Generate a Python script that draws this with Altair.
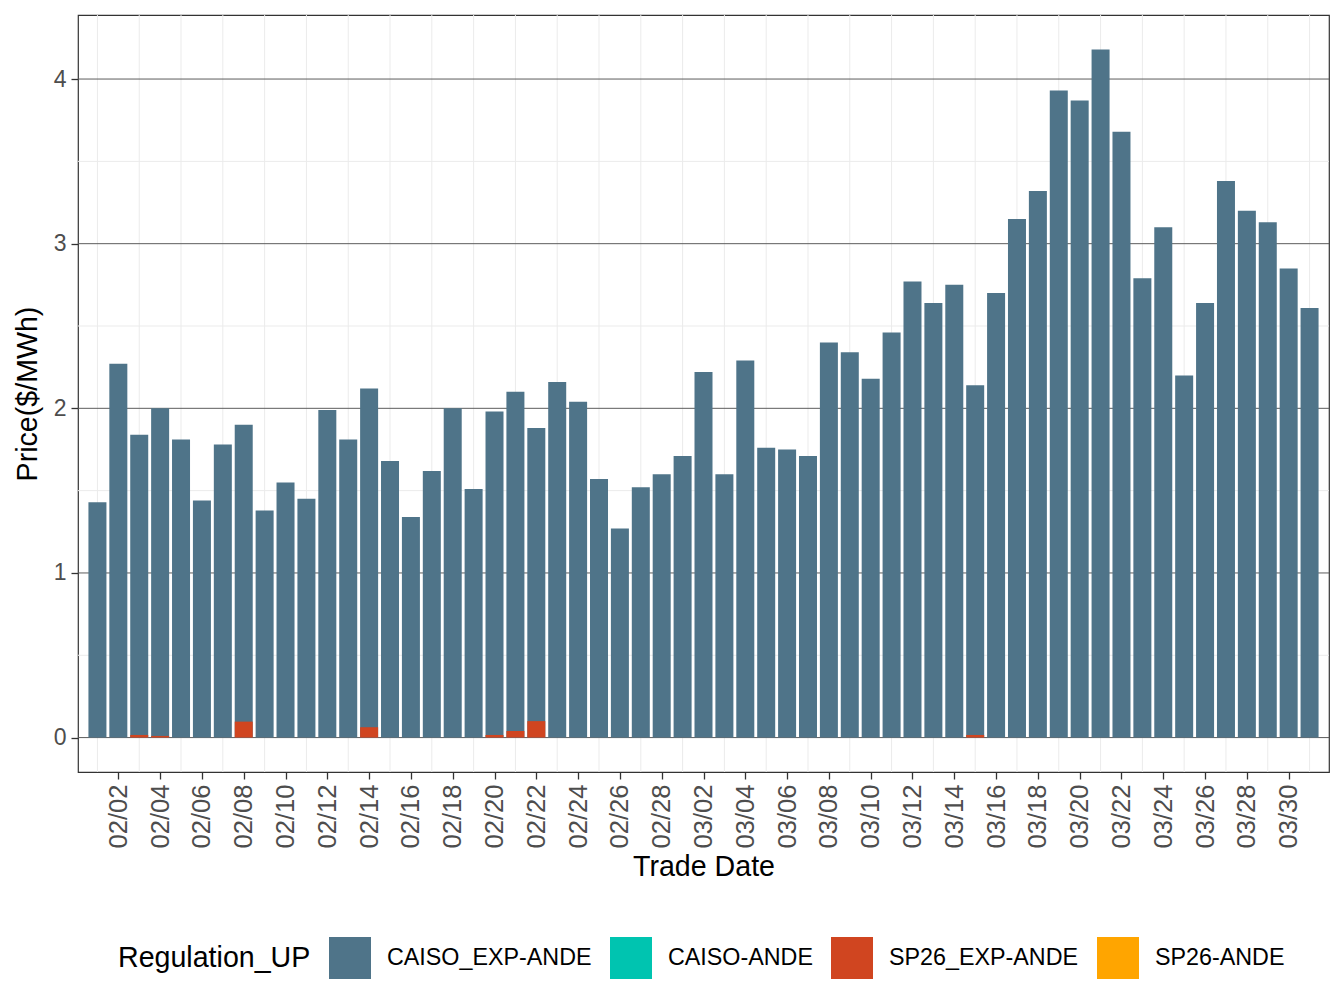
import altair as alt
import pandas as pd

# ---------------- data ----------------
dates = [d.strftime("%Y-%m-%d") for d in pd.date_range("2023-02-01", "2023-03-31", freq="D")]

caiso_exp_ande = [
    1.43, 2.27, 1.84, 2.00, 1.81, 1.44, 1.78, 1.90, 1.38, 1.55,
    1.45, 1.99, 1.81, 2.12, 1.68, 1.34, 1.62, 2.00, 1.51, 1.98,
    2.10, 1.88, 2.16, 2.04, 1.57, 1.27, 1.52, 1.60, 1.71, 2.22,
    1.60, 2.29, 1.76, 1.75, 1.71, 2.40, 2.34, 2.18, 2.46, 2.77,
    2.64, 2.75, 2.14, 2.70, 3.15, 3.32, 3.93, 3.87, 4.18, 3.68,
    2.79, 3.10, 2.20, 2.64, 3.38, 3.20, 3.13, 2.85, 2.61,
]

sp26_exp_ande = [
    0.0, 0.0, 0.016, 0.010, 0.0, 0.0, 0.0, 0.097, 0.0, 0.0,
    0.0, 0.0, 0.0, 0.063, 0.0, 0.0, 0.0, 0.0, 0.0, 0.016,
    0.040, 0.100, 0.0, 0.0, 0.0, 0.0, 0.0, 0.0, 0.0, 0.0,
    0.0, 0.0, 0.0, 0.0, 0.0, 0.0, 0.0, 0.0, 0.0, 0.0,
    0.0, 0.0, 0.016, 0.0, 0.0, 0.0, 0.0, 0.0, 0.0, 0.0,
    0.0, 0.0, 0.0, 0.0, 0.0, 0.0, 0.0, 0.0, 0.0,
]

categories = ["CAISO_EXP-ANDE", "CAISO-ANDE", "SP26_EXP-ANDE", "SP26-ANDE"]
colors = ["#4F7489", "#00C4B0", "#D04520", "#FFA500"]

y_major = [0, 1, 2, 3, 4]
y_minor = [0.5, 1.5, 2.5, 3.5]

# ---------------- tables ----------------
rows = [{"date": d, "price": v, "series": "CAISO_EXP-ANDE"} for d, v in zip(dates, caiso_exp_ande)]
rows += [{"date": d, "price": v, "series": "SP26_EXP-ANDE"} for d, v in zip(dates, sp26_exp_ande) if v > 0]
bars_df = pd.DataFrame(rows)


def ms(d):
    return int(pd.Timestamp(d, tz="UTC").timestamp() * 1000)


day_ms = 86400000
tick_values = [ms(d) for d in dates if int(d[-2:]) % 2 == 0]
odd_df = pd.DataFrame({"date": [d for d in dates if int(d[-2:]) % 2 == 1]})
minor_df = pd.DataFrame({"price": y_minor})
major_df = pd.DataFrame({"price": y_major})

pad = 0.93 * day_ms
x_scale = alt.Scale(type="utc", domain=[ms(dates[0]) - pad, ms(dates[-1]) + pad], nice=False, padding=0)
y_scale = alt.Scale(domain=[-0.209, 4.389], nice=False, zero=False)

FONT = "Liberation Sans"

x_axis = alt.Axis(
    values=tick_values,
    labelExpr="utcFormat(datum.value, '%m/%d')",
    labelAngle=270, labelAlign="right", labelBaseline="middle",
    labelFontSize=25.6, labelColor="#4d4d4d", labelPadding=5, labelFont=FONT,
    labelOverlap=False, labelFlush=False,
    tickColor="#333333", tickSize=7, tickWidth=1.3,
    grid=False, domain=False,
    title="Trade Date", titleFontSize=28.6, titleColor="#000000",
    titleFontWeight="normal", titleFont=FONT, titlePadding=4,
)
y_axis = alt.Axis(
    values=y_major, format="d",
    labelFontSize=23, labelColor="#4d4d4d", labelPadding=5, labelFont=FONT,
    tickColor="#333333", tickSize=7, tickWidth=1.3,
    grid=False, domain=False,
    title="Price($/MWh)", titleFontSize=28.6, titleColor="#000000",
    titleFontWeight="normal", titleFont=FONT, titlePadding=11,
)

x_enc = alt.X("date:T", scale=x_scale, axis=x_axis)
y_enc = alt.Y("price:Q", scale=y_scale, axis=y_axis, stack=None)

vgrid = alt.Chart(odd_df).mark_rule(color="#ebebeb", strokeWidth=1).encode(x=x_enc)
hminor = alt.Chart(minor_df).mark_rule(color="#ebebeb", strokeWidth=1).encode(y=y_enc)
hmajor = alt.Chart(major_df).mark_rule(color="#5c5c5c", strokeWidth=1).encode(y=y_enc)

bars = alt.Chart(bars_df).mark_bar(width=18).encode(
    x=x_enc,
    y=y_enc,
    color=alt.Color(
        "series:N",
        scale=alt.Scale(domain=categories, range=colors),
        legend=alt.Legend(
            orient="none", legendX=40, legendY=922, direction="horizontal",
            title="Regulation_UP", titleOrient="left", titleFontSize=28.6,
            titleColor="#000000", titleFontWeight="normal", titleFont=FONT,
            titleBaseline="middle", titleAnchor="middle", titlePadding=18,
            titleLimit=0, labelLimit=0,
            labelFontSize=23.3, labelColor="#000000", labelFont=FONT,
            symbolType="square", symbolSize=1764, symbolStrokeWidth=0,
            symbolOpacity=1, labelOffset=16, columnPadding=18, padding=0,
        ),
    ),
)

chart = (
    alt.layer(vgrid, hminor, hmajor, bars)
    .properties(
        width=1251, height=757,
        padding={"left": 78, "top": 15, "right": 15, "bottom": 236},
        autosize=alt.AutoSizeParams(type="none"),
        background="white",
    )
    .configure(font=FONT, view=alt.ViewConfig(stroke="#333333", strokeWidth=1.2))
)

chart.save("out.html", embed_options={"renderer": "svg", "actions": False})
